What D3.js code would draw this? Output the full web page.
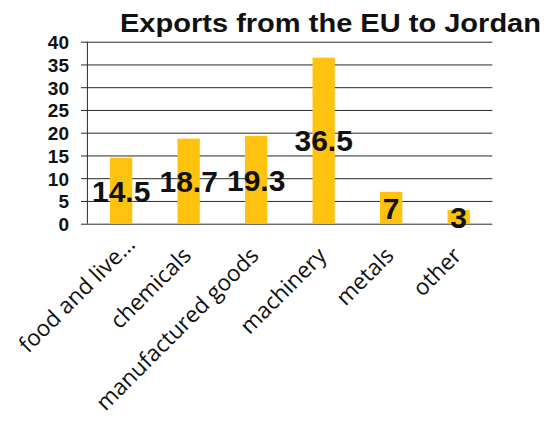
<!DOCTYPE html>
<html>
<head>
<meta charset="utf-8">
<script src="https://cdn.jsdelivr.net/npm/d3@7"></script>
<style>
  html, body { margin: 0; padding: 0; background: #ffffff; }
  svg { display: block; }
</style>
</head>
<body>
<div id="chart"></div>
<script>
// ---- data ----
const chartTitle = "Exports from the EU to Jordan";
const categories = ["food and live...", "chemicals", "manufactured goods", "machinery", "metals", "other"];
const values = [14.5, 18.7, 19.3, 36.5, 7, 3];
const yTickValues = [0, 5, 10, 15, 20, 25, 30, 35, 40];

// ---- layout ----
const W = 544, H = 421;
const plotLeft = 87.4, plotRight = 492.4, plotTop = 41.7, plotBottom = 223.7;
const gridStart = 81;

const svg = d3.select("#chart").append("svg")
  .attr("width", W).attr("height", H);

svg.append("rect").attr("width", W).attr("height", H).attr("fill", "#ffffff");

const x = d3.scaleBand().domain(categories)
  .range([plotLeft, plotRight]).paddingInner(0.67).paddingOuter(0.335);
const y = d3.scaleLinear().domain([0, 40]).range([plotBottom, plotTop]);

// gridlines + y tick labels
const yAxis = d3.axisLeft(y).tickValues(yTickValues)
  .tickSize(-(plotRight - gridStart)).tickPadding(12).tickFormat(d3.format("d"));
const gy = svg.append("g").attr("transform", `translate(${gridStart},0)`).call(yAxis);
gy.select(".domain").remove();
gy.selectAll(".tick line").attr("stroke", "#2a2a2a").attr("stroke-width", 1);
gy.selectAll(".tick text")
  .attr("fill", "#111")
  .attr("font-family", "'Liberation Sans', Arial, sans-serif")
  .attr("font-weight", "bold")
  .attr("font-size", 19)
  .attr("dy", "0.36em");

// vertical axis line
svg.append("line")
  .attr("x1", plotLeft).attr("x2", plotLeft)
  .attr("y1", y(40)).attr("y2", y(0))
  .attr("stroke", "#2a2a2a").attr("stroke-width", 1);

// bars
svg.append("g").selectAll("rect")
  .data(values)
  .join("rect")
  .attr("x", (d, i) => x(categories[i]))
  .attr("width", x.bandwidth())
  .attr("y", d => y(d))
  .attr("height", d => y(0) - y(d))
  .attr("fill", "#FFC20E");

// value labels (centred in bar)
svg.append("g").selectAll("text")
  .data(values)
  .join("text")
  .attr("x", (d, i) => x(categories[i]) + x.bandwidth() / 2)
  .attr("y", d => (y(d) + y(0)) / 2 + 10.8)
  .attr("text-anchor", "middle")
  .attr("font-family", "'Liberation Sans', Arial, sans-serif")
  .attr("font-weight", "bold")
  .attr("font-size", 30)
  .attr("fill", "#111")
  .text(d => d3.format("")(d));

// x category labels, rotated
svg.append("g").selectAll("text")
  .data(categories)
  .join("text")
  .attr("transform", c => `translate(${x(c) + x.bandwidth() / 2 + 4},257) rotate(-45)`)
  .attr("dx", c => c.endsWith("...") ? 16 : 0)
  .attr("text-anchor", "end")
  .attr("font-family", "'Open Sans', 'Noto Sans', sans-serif")
  .attr("font-size", 22.5)
  .attr("fill", "#111")
  .text(c => c);

// title
svg.append("text")
  .attr("x", 120).attr("y", 31.7)
  .attr("font-family", "'Liberation Sans', Arial, sans-serif")
  .attr("font-weight", "bold")
  .attr("font-size", 25)
  .attr("textLength", 421)
  .attr("lengthAdjust", "spacingAndGlyphs")
  .attr("fill", "#111")
  .text(chartTitle);
</script>
</body>
</html>
